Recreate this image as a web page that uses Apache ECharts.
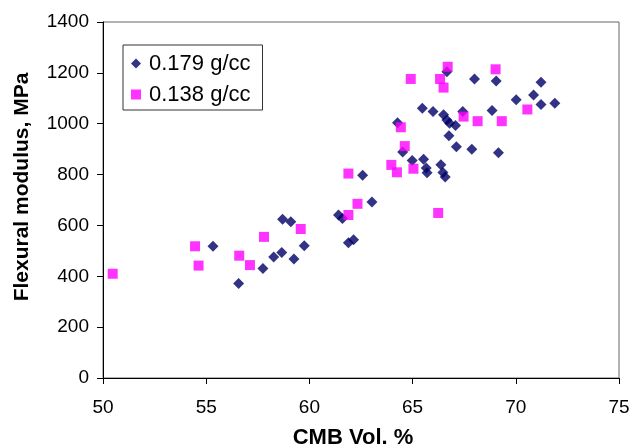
<!DOCTYPE html>
<html>
<head>
<meta charset="utf-8">
<script src="https://cdn.jsdelivr.net/npm/echarts@6/dist/echarts.min.js"></script>
<style>html,body{margin:0;padding:0;background:#fff;}#c{width:632px;height:447px;}</style>
</head>
<body>
<div id="c"></div>
<script>
const seriesNames = ['0.179 g/cc', '0.138 g/cc'];
const xTicks = [50, 55, 60, 65, 70, 75];
const yTicks = [0, 200, 400, 600, 800, 1000, 1200, 1400];
const dense179 = [
  [55.33,518],[56.57,372],[57.75,431],[58.27,476],[58.66,494],[58.70,624],[59.10,614],[59.25,468],
  [59.75,520],[61.41,641],[61.60,627],[61.89,532],[62.14,544],[62.58,797],[63.03,692],[64.27,1004],
  [64.52,889],[64.98,855],[65.47,1061],[65.53,860],[65.66,826],[65.70,807],[65.99,1048],[66.37,839],
  [66.47,808],[66.50,1035],[66.58,790],[66.66,1204],[66.66,1015],[66.76,953],[66.79,1002],[67.08,993],
  [67.12,909],[67.43,1048],[67.87,900],[68.00,1176],[68.85,1052],[69.05,1168],[69.16,886],[70.02,1094],
  [70.86,1113],[71.22,1163],[71.22,1076],[71.89,1080]
];
const dense138 = [
  [50.47,410],[54.46,518],[54.63,442],[56.60,481],[57.12,444],[57.80,555],[59.58,586],[61.89,804],
  [61.89,641],[62.33,685],[63.97,838],[64.24,809],[64.43,986],[64.62,912],[64.91,1176],[65.04,823],
  [66.24,649],[66.33,1176],[66.50,1142],[66.70,1224],[67.47,1028],[68.15,1010],[69.02,1214],[69.32,1010],
  [70.56,1056]
];

const chart = echarts.init(document.getElementById('c'));
const font = 'Liberation Sans, Arial, sans-serif';
chart.setOption({
  animation: false,
  backgroundColor: '#fff',
  grid: {
    left: 103, right: 13, top: 22, bottom: 69, show: true, borderColor: '#666', borderWidth: 1,
    containLabel: false, outerBoundsMode: 'none'
  },
  legend: {
    orient: 'vertical', left: 123, top: 45,
    padding: [7, 12, 4, 8],
    itemGap: 8, itemWidth: 10, itemHeight: 10,
    borderColor: '#333', borderWidth: 1,
    textStyle: { fontFamily: font, fontSize: 22, lineHeight: 23, color: '#000', padding: [0, 0, 0, 3] },
    data: [
      { name: seriesNames[0], icon: 'diamond' },
      { name: seriesNames[1], icon: 'rect' }
    ]
  },
  xAxis: {
    type: 'value', min: xTicks[0], max: xTicks[xTicks.length - 1], interval: 5,
    name: 'CMB Vol. %', nameLocation: 'middle', nameGap: 49,
    nameTextStyle: { fontFamily: font, fontSize: 22, fontWeight: 'bold', color: '#000', padding: [0, 16, 0, 0] },
    axisLine: { lineStyle: { color: '#000', width: 1 } },
    axisTick: { show: true, length: 6, lineStyle: { color: '#000' } },
    axisLabel: { fontFamily: font, fontSize: 19, color: '#000', margin: 20 },
    splitLine: { show: false }
  },
  yAxis: {
    type: 'value', min: yTicks[0], max: yTicks[yTicks.length - 1], interval: 200,
    name: 'Flexural modulus, MPa', nameLocation: 'middle', nameGap: 70,
    nameTextStyle: { fontFamily: font, fontSize: 21, fontWeight: 'bold', color: '#000', padding: [0, 0, 0, 26] },
    axisLine: { show: true, lineStyle: { color: '#000', width: 1 } },
    axisTick: { show: true, length: 6, lineStyle: { color: '#000' } },
    axisLabel: { fontFamily: font, fontSize: 19, color: '#000', margin: 14, formatter: v => String(v) },
    splitLine: { show: false }
  },
  series: [
    {
      name: seriesNames[0], type: 'scatter', symbol: 'diamond', symbolSize: 11,
      itemStyle: { color: '#000066' }, data: dense179, z: 2
    },
    {
      name: seriesNames[1], type: 'scatter', symbol: 'rect', symbolSize: 10,
      itemStyle: { color: '#FF00FF' }, data: dense138, z: 3
    }
  ]
});
</script>
</body>
</html>
